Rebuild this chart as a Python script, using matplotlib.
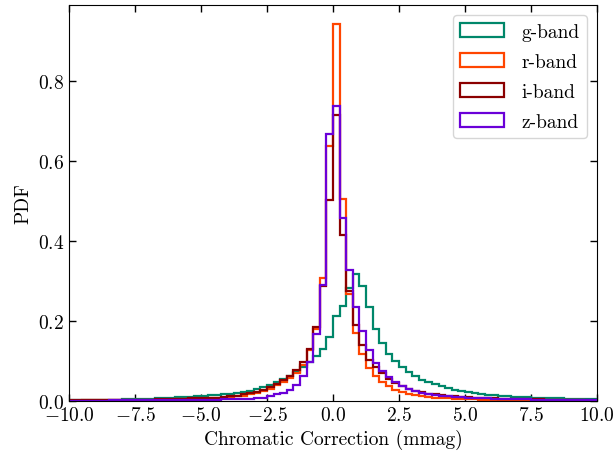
import numpy as np
import matplotlib
matplotlib.use("Agg")
import matplotlib.pyplot as plt

plt.rcParams['font.family'] = 'serif'
plt.rcParams['font.serif'] = ['cmr10']
plt.rcParams['mathtext.fontset'] = 'cm'
plt.rcParams['axes.formatter.use_mathtext'] = True
plt.rcParams['font.size'] = 14

bin_edges = np.arange(-10.0, 10.0001, 0.25)

g_band = [0.001, 0.001, 0.0015, 0.0015, 0.002, 0.002, 0.0025, 0.003, 0.0035, 0.004,
          0.0045, 0.005, 0.0055, 0.006, 0.007, 0.0075, 0.0085, 0.009, 0.010, 0.011,
          0.012, 0.0135, 0.015, 0.016, 0.017, 0.019, 0.022, 0.025, 0.029, 0.034,
          0.039, 0.046, 0.054, 0.063, 0.073, 0.085, 0.098, 0.112, 0.130, 0.160,
          0.213, 0.238, 0.283, 0.318, 0.288, 0.235, 0.179, 0.145, 0.117, 0.100,
          0.084, 0.073, 0.061, 0.053, 0.047, 0.041, 0.036, 0.032, 0.028, 0.025,
          0.022, 0.019, 0.017, 0.0155, 0.014, 0.0125, 0.011, 0.010, 0.0095, 0.009,
          0.008, 0.0075, 0.007, 0.0065, 0.006, 0.0055, 0.005, 0.0045, 0.004, 0.004]

r_band = [0.0005, 0.0005, 0.0006, 0.0007, 0.0008, 0.0009, 0.001, 0.0011, 0.0012, 0.0014,
          0.0016, 0.0018, 0.002, 0.0023, 0.0026, 0.003, 0.0034, 0.0038, 0.0042, 0.0047,
          0.005, 0.006, 0.007, 0.008, 0.0095, 0.011, 0.013, 0.016, 0.019, 0.024,
          0.030, 0.039, 0.047, 0.058, 0.070, 0.090, 0.126, 0.180, 0.306, 0.637,
          0.942, 0.504, 0.268, 0.170, 0.118, 0.082, 0.063, 0.047, 0.036, 0.028,
          0.022, 0.018, 0.014, 0.011, 0.009, 0.008, 0.007, 0.006, 0.005, 0.0045,
          0.004, 0.0035, 0.003, 0.0027, 0.0024, 0.0021, 0.0019, 0.0017, 0.0015, 0.0013,
          0.0012, 0.0011, 0.001, 0.0009, 0.0008, 0.0007, 0.0007, 0.0006, 0.0005, 0.0005]

i_band = [0.0008, 0.0009, 0.001, 0.0011, 0.0012, 0.0013, 0.0015, 0.0017, 0.0019, 0.0021,
          0.0024, 0.0027, 0.003, 0.0034, 0.0038, 0.0042, 0.0047, 0.0052, 0.0058, 0.0064,
          0.006, 0.007, 0.008, 0.010, 0.012, 0.013, 0.016, 0.019, 0.023, 0.028,
          0.034, 0.042, 0.052, 0.063, 0.077, 0.0965, 0.130, 0.185, 0.286, 0.501,
          0.714, 0.414, 0.275, 0.190, 0.140, 0.102, 0.084, 0.070, 0.055, 0.045,
          0.036, 0.030, 0.024, 0.021, 0.018, 0.016, 0.014, 0.012, 0.011, 0.010,
          0.009, 0.008, 0.0072, 0.0065, 0.006, 0.0055, 0.005, 0.0045, 0.004, 0.0037,
          0.0034, 0.0031, 0.0028, 0.0026, 0.0024, 0.0022, 0.002, 0.0018, 0.0017, 0.0016]

z_band = [0.0003, 0.0003, 0.0004, 0.0004, 0.0005, 0.0005, 0.0006, 0.0006, 0.0007, 0.0008,
          0.0009, 0.001, 0.0011, 0.0012, 0.0013, 0.0015, 0.0016, 0.0018, 0.002, 0.0022,
          0.0024, 0.0027, 0.0028, 0.0031, 0.0035, 0.004, 0.0045, 0.005, 0.006, 0.008,
          0.012, 0.016, 0.020, 0.028, 0.040, 0.061, 0.098, 0.167, 0.290, 0.666,
          0.738, 0.456, 0.327, 0.234, 0.175, 0.128, 0.094, 0.075, 0.059, 0.046,
          0.036, 0.030, 0.024, 0.020, 0.017, 0.015, 0.013, 0.011, 0.010, 0.009,
          0.008, 0.007, 0.0063, 0.0057, 0.0052, 0.0047, 0.0043, 0.0039, 0.0035, 0.0032,
          0.003, 0.0027, 0.0025, 0.0023, 0.0021, 0.002, 0.0018, 0.0017, 0.0016, 0.0015]

labels = ['g-band', 'r-band', 'i-band', 'z-band']
colors = ['#00876a', '#ff4500', '#8b0000', '#6a00d8']
series = [g_band, r_band, i_band, z_band]

fig = plt.figure(figsize=(6.15, 4.56), dpi=100)
ax = fig.add_axes([0.1122, 0.119, 0.8585, 0.8674])

centers = 0.5 * (bin_edges[:-1] + bin_edges[1:])
for vals, col, lab in zip(series, colors, labels):
    ax.hist(centers, bins=bin_edges, weights=vals, histtype='step',
            color=col, lw=1.6, label=lab)

ax.set_xlim(-10, 10)
ax.set_xticks(np.arange(-10, 10.01, 2.5))
ax.set_yticks([0.0, 0.2, 0.4, 0.6, 0.8])
ax.tick_params(direction='in', top=True, right=True, length=5, width=1)
ax.set_xlabel('Chromatic Correction (mmag)')
ax.set_ylabel('PDF')
ax.legend(loc='upper right', handlelength=2.26, handletextpad=0.87,
          labelspacing=0.62)

fig.savefig('out.png', dpi=100)
